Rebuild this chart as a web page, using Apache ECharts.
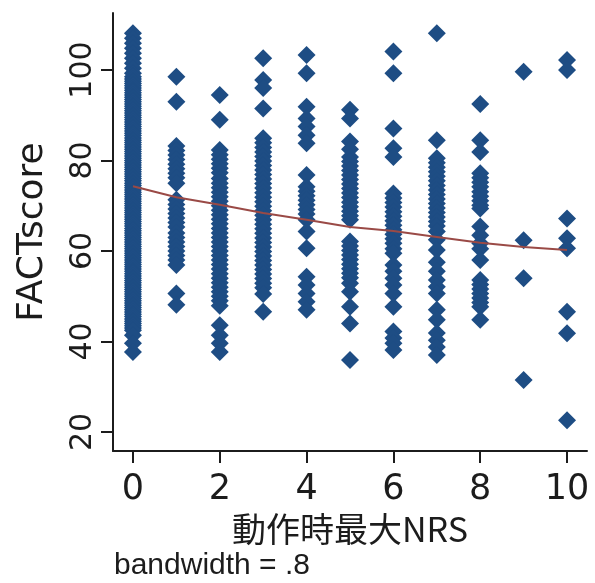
<!DOCTYPE html>
<html>
<head>
<meta charset="utf-8">
<script src="https://cdn.jsdelivr.net/npm/echarts@6/dist/echarts.min.js"></script>
<style>
html,body{margin:0;padding:0;background:#fff;}
#chart{width:595px;height:583px;}
</style>
</head>
<body>
<div id="chart"></div>
<script>
// NRS levels (x) and tick labels
const nrsLevels = [0, 1, 2, 3, 4, 5, 6, 7, 8, 9, 10];
const xTicks = [0, 2, 4, 6, 8, 10];
const yTicks = [20, 40, 60, 80, 100];

const fact0 = [108.1, 107, 105.9, 104.8, 103.7, 102.6, 101.5, 100.4, 99.3, 98.5, 98, 97.5, 97, 96.5, 96, 95.5, 95, 94.5, 94, 93.5, 93, 92.5, 92, 91.5, 91, 90.5, 90, 89.5, 89, 88.5, 88, 87.5, 87, 86.5, 86, 85.5, 85, 84.5, 84, 83.5, 83, 82.5, 82, 81.5, 81, 80.5, 80, 79.5, 79, 78.5, 78, 77.5, 77, 76.5, 76, 75.5, 75, 74.5, 74, 73.5, 73, 72.5, 72, 71.5, 71, 70.5, 70, 69.5, 69, 68.5, 68, 67.5, 67, 66.5, 66, 65.5, 65, 64.5, 64, 63.5, 63, 62.5, 62, 61.5, 61, 60.5, 60, 59.5, 59, 58.5, 58, 57.5, 57, 56.5, 56, 55.5, 55, 54.5, 54, 53.5, 53, 52.5, 52, 51.5, 51, 50.5, 50, 49.5, 49, 48.5, 48, 47.5, 47, 46.5, 46, 45.5, 45, 44.5, 44, 43.5, 43, 42.5, 41.4, 39.6, 37.7];
const fact1 = [98.5, 93.0, 83.2, 82.2, 81.2, 80.2, 79.2, 78.2, 77.2, 76.2, 75.0, 71.3, 70.3, 69.3, 68.3, 67.3, 66.3, 65.3, 64.0, 63, 62, 61, 60, 59, 58, 56.9, 50.6, 48.1];
const fact2 = [94.5, 89.0, 82.3, 81.3, 80.3, 79.3, 78.3, 77.3, 76, 75, 74, 73, 72, 71, 70, 69, 68, 67, 66, 65, 64, 63, 62, 61, 60, 59, 58, 57, 56, 55, 54, 53, 52, 51, 50, 49, 47.9, 43.6, 41.4, 39.6, 37.7];
const fact3 = [102.6, 97.8, 96.0, 91.5, 84.9, 83.9, 82.9, 81.9, 80.9, 79.9, 78.9, 77.9, 76.9, 75.9, 74.9, 73.9, 72.9, 71.9, 70.9, 69.9, 68.9, 67.9, 66.9, 65.9, 64.9, 63.9, 62.9, 61.9, 60.9, 59.9, 58.9, 57.9, 56.9, 55.9, 54.9, 53.9, 52.9, 51.9, 50.5, 46.6];
const fact4 = [103.3, 99.3, 91.9, 89.3, 87.5, 85.6, 83.8, 76.8, 74.2, 73.2, 72.2, 71.2, 70.2, 69.2, 68.2, 66.9, 64.3, 60.6, 54.3, 52.5, 50.6, 48.8, 47.0];
const fact5 = [91.2, 89.3, 84.2, 82.5, 80.8, 79.8, 78.8, 77.8, 76.8, 75.8, 74.8, 73.8, 72.8, 71.8, 70.8, 69.8, 68.8, 67.8, 66.9, 62.1, 61.1, 60.1, 59.1, 58.1, 57.1, 56.1, 55.1, 54.1, 52.9, 51.0, 47.7, 44.0, 35.9];
const fact6 = [104.1, 99.3, 87.1, 82.7, 80.8, 72.7, 71.7, 70.7, 69.7, 68.7, 67.7, 66.7, 65.7, 64.7, 63.7, 62.7, 61.7, 60.5, 59.5, 56.9, 55.5, 54, 52.5, 50.6, 47.7, 42.2, 40.8, 39.6, 38.1];
const fact7 = [108.1, 84.5, 80.5, 79.5, 78.5, 77.5, 76.5, 75.5, 74.5, 73.5, 72.5, 71.5, 70.5, 69.5, 68.5, 67.5, 66.5, 65.5, 64.3, 62.5, 60.2, 57.5, 55.5, 53.6, 52.1, 50.6, 47.0, 44.8, 41.9, 40.3, 38.8, 37.0];
const fact8 = [92.5, 84.5, 81.9, 77.2, 76.2, 75.2, 74.2, 73.1, 72.1, 71.1, 70.1, 69.4, 65.4, 63.5, 61.7, 60.5, 58.0, 53.6, 52.6, 51.6, 50.6, 49.6, 48.6, 47.7, 44.8];
const fact9 = [99.6, 62.4, 54.0, 31.5];
const fact10 = [102.2, 100.0, 67.2, 62.8, 60.6, 46.6, 41.8, 22.6];

// lowess fit at each NRS level
const lowessFit = [74.3, 71.9, 70.2, 68.4, 66.9, 65.3, 64.4, 63.1, 61.8, 60.9, 60.2];

const factByLevel = [fact0, fact1, fact2, fact3, fact4, fact5, fact6, fact7, fact8, fact9, fact10];
const scatterData = [];
factByLevel.forEach((arr, i) => arr.forEach(v => scatterData.push([nrsLevels[i], v])));
const lineData = nrsLevels.map((x, i) => [x, lowessFit[i]]);

const txt = '#1c1c1c';
const chart = echarts.init(document.getElementById('chart'), null, {renderer: 'canvas'});
chart.setOption({
  backgroundColor: '#ffffff',
  animation: false,
  title: {
    text: 'bandwidth = .8',
    left: 114,
    top: 551,
    padding: 0,
    textStyle: {fontFamily: 'Liberation Sans', fontSize: 30, fontWeight: 'normal', color: txt}
  },
  grid: {left: 113, top: 13, right: 8, bottom: 132, containLabel: false},
  xAxis: {
    type: 'value',
    min: -0.46,
    max: 10.46,
    name: '動作時最大NRS',
    nameLocation: 'middle',
    nameGap: 57,
    nameTextStyle: {fontFamily: 'Noto Sans CJK JP', fontSize: 34, color: txt},
    axisLine: {show: true, onZero: false, lineStyle: {color: txt, width: 2}},
    axisTick: {show: true, inside: false, length: 12, lineStyle: {color: txt, width: 2}, customValues: xTicks},
    axisLabel: {customValues: xTicks, fontFamily: 'DejaVu Sans', fontSize: 35, color: txt, margin: 21},
    splitLine: {show: false}
  },
  yAxis: {
    type: 'value',
    min: 15.8,
    max: 112.6,
    name: 'FACTscore',
    nameLocation: 'middle',
    nameGap: 62,
    nameTextStyle: {fontFamily: 'DejaVu Sans', fontSize: 36, color: txt},
    axisLine: {show: true, onZero: false, lineStyle: {color: txt, width: 2}},
    axisTick: {show: true, inside: false, length: 12, lineStyle: {color: txt, width: 2}, customValues: yTicks},
    axisLabel: {customValues: yTicks, rotate: 90, fontFamily: 'DejaVu Sans', fontSize: 30, color: txt, margin: 15},
    splitLine: {show: false}
  },
  series: [
    {
      type: 'scatter',
      data: scatterData,
      symbol: 'diamond',
      symbolSize: [18, 18],
      itemStyle: {color: '#1e4d84', opacity: 1},
      z: 2
    },
    {
      type: 'line',
      data: lineData,
      symbol: 'none',
      lineStyle: {color: '#9a4a46', width: 2},
      z: 3
    }
  ]
});
</script>
</body>
</html>
